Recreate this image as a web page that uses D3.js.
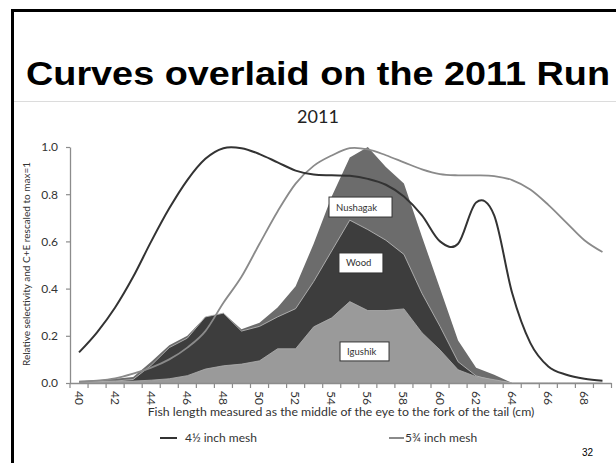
<!DOCTYPE html>
<html>
<head>
<meta charset="utf-8">
<script src="https://cdn.jsdelivr.net/npm/d3@7/dist/d3.min.js"></script>
<style>
  html, body { margin: 0; padding: 0; background: #fff; }
  svg { display: block; }
</style>
</head>
<body>
<script>
// Fish length classes (cm)
const categories = [40,41,42,43,44,45,46,47,48,49,50,51,52,53,54,55,56,57,58,59,60,61,62,63,64,65,66,67,68,69];
const xTickLabels = [40,42,44,46,48,50,52,54,56,58,60,62,64,66,68];
const yTicks = [0, 0.2, 0.4, 0.6, 0.8, 1.0];

// Relative selectivity curves, rescaled to max = 1
const mesh45 = [0.13,0.215,0.32,0.45,0.60,0.74,0.86,0.95,0.995,0.995,0.97,0.935,0.90,0.883,0.88,0.878,0.865,0.84,0.79,0.71,0.60,0.59,0.765,0.71,0.38,0.17,0.07,0.035,0.018,0.01];
const mesh575 = [0.005,0.01,0.02,0.04,0.065,0.10,0.15,0.22,0.34,0.45,0.59,0.727,0.845,0.92,0.964,0.995,0.99,0.965,0.935,0.905,0.885,0.88,0.88,0.877,0.86,0.82,0.755,0.68,0.605,0.555];

// Catch + escapement by river, rescaled to max = 1
const nushagak = [0.01,0.012,0.018,0.025,0.09,0.16,0.20,0.28,0.296,0.228,0.255,0.32,0.41,0.59,0.79,0.955,1.0,0.915,0.845,0.62,0.40,0.18,0.065,0.035,0,0,0,0,0,0];
const wood = [0.005,0.006,0.008,0.015,0.075,0.15,0.19,0.28,0.296,0.22,0.24,0.28,0.315,0.43,0.56,0.69,0.65,0.605,0.545,0.38,0.24,0.09,0.03,0.01,0,0,0,0,0,0];
const igushik = [0.004,0.005,0.006,0.008,0.012,0.018,0.031,0.059,0.073,0.08,0.094,0.145,0.145,0.238,0.276,0.345,0.307,0.307,0.314,0.213,0.14,0.056,0.027,0.014,0,0,0,0,0,0];

const W = 616, H = 463;
const svg = d3.select("body").append("svg").attr("width", W).attr("height", H);

// Slide frame
svg.append("rect").attr("x", 0).attr("y", 0).attr("width", W).attr("height", H).attr("fill", "#fff");
svg.append("line").attr("x1", 12).attr("x2", W).attr("y1", 10.5).attr("y2", 10.5)
  .attr("stroke", "#000").attr("stroke-width", 3);
svg.append("line").attr("x1", 12.5).attr("x2", 12.5).attr("y1", 9).attr("y2", H)
  .attr("stroke", "#000").attr("stroke-width", 3);
svg.append("line").attr("x1", 14).attr("x2", W).attr("y1", 101.5).attr("y2", 101.5)
  .attr("stroke", "#dcdcdc").attr("stroke-width", 1.2);

svg.append("text").attr("x", 26).attr("y", 85)
  .attr("font-family", "'Liberation Sans', Arial, sans-serif").attr("font-weight", "bold")
  .attr("font-size", 34).attr("textLength", 584).attr("lengthAdjust", "spacingAndGlyphs")
  .attr("fill", "#000").text("Curves overlaid on the 2011 Run");

// Scales
const x = d3.scaleBand().domain(categories).range([70, 611.5]).padding(0);
const cx = c => x(c) + x.bandwidth() / 2;
const xLin = d3.scaleLinear().domain([40, 69]).range([cx(40), cx(69)]);
const y = d3.scaleLinear().domain([0, 1]).range([383, 147]);

const font = "Lato, 'Open Sans', sans-serif";

// Chart title
svg.append("text").attr("x", 318).attr("y", 123).attr("text-anchor", "middle")
  .attr("font-family", font).attr("font-size", 18).attr("fill", "#222").text("2011");

// Areas
const area = vals => d3.area()
  .x((d, i) => cx(categories[i]))
  .y0(y(0)).y1(d => y(d))
  .curve(d3.curveLinear)(vals);
const topLine = vals => d3.line()
  .x((d, i) => cx(categories[i])).y(d => y(d))
  .curve(d3.curveLinear)(vals);

svg.append("path").attr("d", area(nushagak)).attr("fill", "#6c6c6c");
svg.append("path").attr("d", area(wood)).attr("fill", "#3d3d3d");
svg.append("path").attr("d", topLine(wood)).attr("fill", "none").attr("stroke", "#b5b5b5").attr("stroke-width", 0.9);
svg.append("path").attr("d", area(igushik)).attr("fill", "#9a9a9a");
svg.append("path").attr("d", topLine(igushik)).attr("fill", "none").attr("stroke", "#b0b0b0").attr("stroke-width", 0.8);

// Selectivity curves
const smooth = d3.line().x((d, i) => cx(categories[i])).y(d => y(d)).curve(d3.curveCardinal.tension(0));
svg.append("path").attr("d", smooth(mesh575)).attr("fill", "none")
  .attr("stroke", "#8a8a8a").attr("stroke-width", 1.8);
svg.append("path").attr("d", smooth(mesh45)).attr("fill", "none")
  .attr("stroke", "#333").attr("stroke-width", 2);

// Axes
const axisColor = "#8c8c8c";
const gy = svg.append("g").attr("transform", "translate(70,0)")
  .call(d3.axisLeft(y).tickValues(yTicks).tickFormat(d3.format(".1f")).tickSize(4).tickSizeOuter(0));
gy.select(".domain").attr("stroke", axisColor).attr("stroke-width", 1.3);
gy.selectAll(".tick line").attr("stroke", axisColor).attr("stroke-width", 1.2);
gy.selectAll(".tick text").attr("font-family", font).attr("font-size", 12).attr("fill", "#333").attr("x", -12);

const gx = svg.append("g").attr("transform", `translate(0,${y(0)})`);
gx.append("line").attr("x1", 70).attr("x2", 611.5).attr("y1", 0.5).attr("y2", 0.5)
  .attr("stroke", axisColor).attr("stroke-width", 1.3);
const bounds = categories.map(c => x(c)).concat([x(69) + x.bandwidth()]);
gx.selectAll("line.tk").data(bounds).join("line").attr("class", "tk")
  .attr("x1", d => d).attr("x2", d => d).attr("y1", 0).attr("y2", 5)
  .attr("stroke", axisColor).attr("stroke-width", 1.2);
gx.selectAll("text.tl").data(xTickLabels).join("text").attr("class", "tl")
  .attr("transform", d => `translate(${cx(d) - 4.5},8) rotate(90)`)
  .attr("font-family", font).attr("font-size", 12).attr("fill", "#333")
  .text(d => d);

// Axis titles
svg.append("text").attr("transform", "translate(30,264) rotate(-90)")
  .attr("text-anchor", "middle").attr("font-family", font).attr("font-size", 10)
  .attr("fill", "#333").text("Relative selectivity and C+E rescaled to max=1");
svg.append("text").attr("x", 341).attr("y", 416).attr("text-anchor", "middle")
  .attr("font-family", font).attr("font-size", 12.3).attr("fill", "#333")
  .text("Fish length measured as the middle of the eye to the fork of the tail (cm)");

// River labels
const riverLabels = [
  { name: "Nushagak", c: 53.85, v: 0.788, w: 63, h: 20 },
  { name: "Wood", c: 54.4, v: 0.551, w: 44, h: 20 },
  { name: "Igushik", c: 54.46, v: 0.174, w: 49, h: 19 }
];
const lg = svg.selectAll("g.rl").data(riverLabels).join("g").attr("class", "rl")
  .attr("transform", d => `translate(${xLin(d.c)},${y(d.v)})`);
lg.append("rect").attr("width", d => d.w).attr("height", d => d.h)
  .attr("fill", "#fff").attr("stroke", "#333").attr("stroke-width", 1);
lg.append("text").attr("x", 7).attr("y", d => d.h / 2 + 3.5)
  .attr("font-family", font).attr("font-size", 9.5).attr("fill", "#333").text(d => d.name);

// Legend
const legend = [
  { label: "4½ inch mesh", color: "#333", x1: 160, x2: 177, tx: 185 },
  { label: "5¾ inch mesh", color: "#8a8a8a", x1: 389, x2: 404, tx: 405 }
];
const lgd = svg.selectAll("g.lgd").data(legend).join("g").attr("class", "lgd");
lgd.append("line").attr("x1", d => d.x1).attr("x2", d => d.x2).attr("y1", 438).attr("y2", 438)
  .attr("stroke", d => d.color).attr("stroke-width", 2);
lgd.append("text").attr("x", d => d.tx).attr("y", 442)
  .attr("font-family", font).attr("font-size", 12).attr("fill", "#333").text(d => d.label);

// Slide number
svg.append("text").attr("x", 593).attr("y", 456).attr("text-anchor", "end")
  .attr("font-family", "'Liberation Sans', Arial, sans-serif").attr("font-size", 10)
  .attr("fill", "#000").text("32");
</script>
</body>
</html>
